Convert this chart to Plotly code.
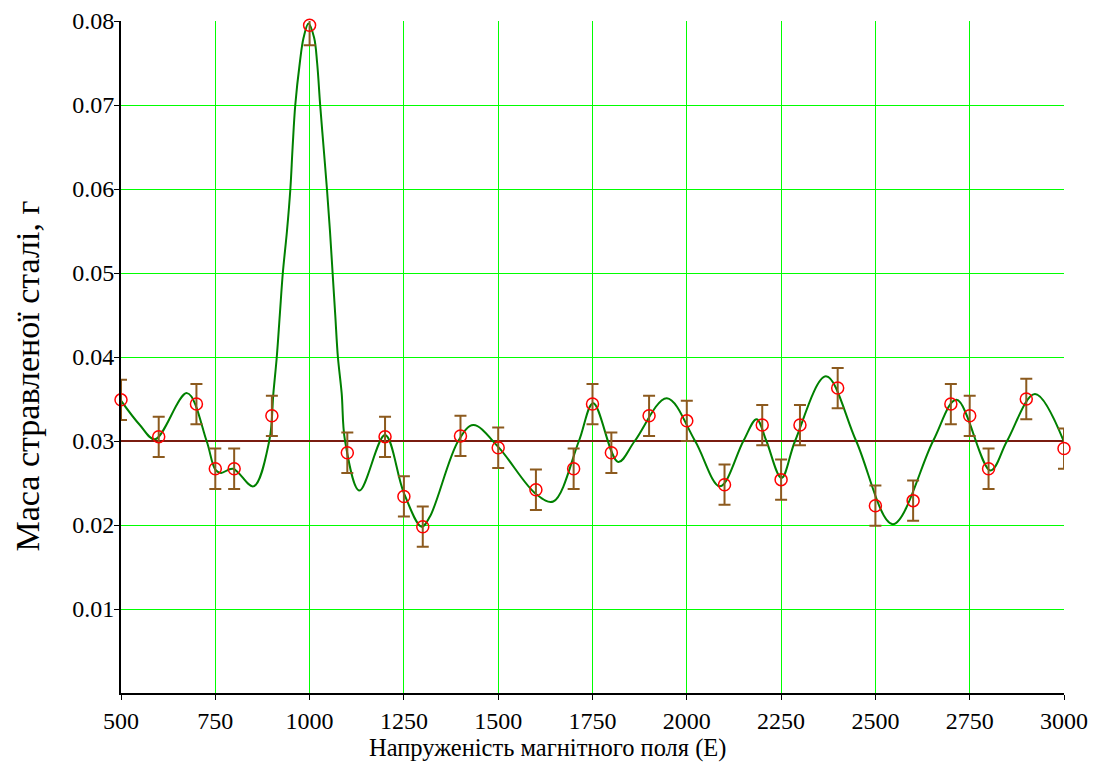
import plotly.graph_objects as go

# Measured points
x_pts = [500, 600, 700, 750, 800, 900, 1000, 1100, 1200, 1250, 1300, 1400, 1500, 1600,
         1700, 1750, 1800, 1900, 2000, 2100, 2200, 2250, 2300, 2400, 2500, 2600, 2700,
         2750, 2800, 2900, 3000]
y_pts = [0.0349, 0.0305, 0.0344, 0.0267, 0.0267, 0.0330, 0.0795, 0.0286, 0.0305, 0.0234,
         0.0198, 0.0306, 0.0292, 0.0242, 0.0267, 0.0344, 0.0286, 0.0330, 0.0324, 0.0248,
         0.0319, 0.0254, 0.0319, 0.0363, 0.0223, 0.0229, 0.0344, 0.0330, 0.0267, 0.0350,
         0.0291]
err = 0.0024

# Smoothed curve
x_curve = [500, 550, 590, 675, 727, 750, 765, 797, 851, 893, 904, 913, 921, 929, 940, 949,
           955, 962, 974, 984, 997, 1012, 1020, 1028, 1037, 1046, 1054, 1061, 1068, 1075,
           1085, 1094, 1132, 1200, 1250, 1297, 1319,
           1394, 1434, 1500, 1600, 1646, 1714, 1752, 1818, 1862, 1947, 2022, 2088, 2150,
           2185, 2211, 2251, 2287, 2369, 2449, 2546, 2653, 2715, 2805, 2849, 2923, 3000]
y_curve = [0.0348, 0.0319, 0.0302, 0.0357, 0.0300, 0.0266, 0.0262, 0.0267, 0.0246, 0.0300,
           0.0357, 0.0400, 0.0450, 0.0500, 0.0550, 0.0600, 0.0650, 0.0700, 0.0750, 0.0780,
           0.0797, 0.0780, 0.0750, 0.0700, 0.0650, 0.0600, 0.0550, 0.0500, 0.0450, 0.0400,
           0.0357, 0.0300, 0.0241, 0.0307, 0.0238, 0.0198, 0.0210,
           0.0300, 0.0319, 0.0293, 0.0237, 0.0228, 0.0300, 0.0345, 0.0275, 0.0300, 0.0351,
           0.0300, 0.0246, 0.0300, 0.0326, 0.0300, 0.0256, 0.0300, 0.0377, 0.0300, 0.0201,
           0.0300, 0.0349, 0.0265, 0.0300, 0.0356, 0.0299]

mean_level = 0.03
x_ticks = [500, 750, 1000, 1250, 1500, 1750, 2000, 2250, 2500, 2750, 3000]
y_ticks = [0.01, 0.02, 0.03, 0.04, 0.05, 0.06, 0.07, 0.08]
x_title = "Напруженість магнітного поля (Е)"
y_title = "Маса стравленої сталі, г"

fig = go.Figure()
fig.add_trace(go.Scatter(x=[500, 3000], y=[mean_level, mean_level], mode="lines",
                         line=dict(color="#7a1c10", width=2), showlegend=False))
fig.add_trace(go.Scatter(x=x_curve, y=y_curve, mode="lines",
                         line=dict(color="#008000", width=2, shape="spline", smoothing=1.0),
                         showlegend=False))
fig.add_trace(go.Scatter(x=x_pts, y=y_pts, mode="markers",
                         marker=dict(symbol="circle-open", size=12, color="#ff0000",
                                     line=dict(width=1.5, color="#ff0000")),
                         error_y=dict(type="constant", value=err, color="#8c5a1e",
                                      thickness=2, width=6),
                         cliponaxis=False, showlegend=False))

font_family = "Liberation Serif, Times New Roman, serif"
fig.update_layout(
    template="none",
    width=1099, height=762,
    margin=dict(l=113, r=43, t=13, b=77, autoexpand=False),
    paper_bgcolor="white", plot_bgcolor="white",
    font=dict(family=font_family, size=24, color="black"),
    xaxis=dict(range=[500, 3000], tickvals=x_ticks, ticktext=[str(v) for v in x_ticks],
               automargin=False,
               showgrid=True, gridcolor="#00ff00", gridwidth=1,
               showline=True, linecolor="black", linewidth=2,
               ticks="outside", ticklen=5, tickcolor="black", zeroline=False,
               tickfont=dict(family=font_family, size=24, color="black")),
    yaxis=dict(range=[0, 0.08], tickvals=y_ticks, ticktext=[f"{v:.2f}" for v in y_ticks],
               automargin=False,
               showgrid=True, gridcolor="#00ff00", gridwidth=1,
               showline=True, linecolor="black", linewidth=2,
               ticks="outside", ticklen=5, tickcolor="black", zeroline=False,
               ticklabelstandoff=-5,
               tickfont=dict(family=font_family, size=24, color="black")),
    annotations=[
        dict(text=x_title, xref="paper", yref="paper", x=0.4523, y=-0.0818,
             xanchor="center", yanchor="middle", showarrow=False,
             font=dict(family=font_family, size=24.5, color="black")),
        dict(text=y_title, xref="paper", yref="paper", x=-0.0997, y=0.4725,
             xanchor="center", yanchor="middle", showarrow=False, textangle=-90,
             font=dict(family=font_family, size=34, color="black")),
    ],
)
fig.write_html("out.html")
